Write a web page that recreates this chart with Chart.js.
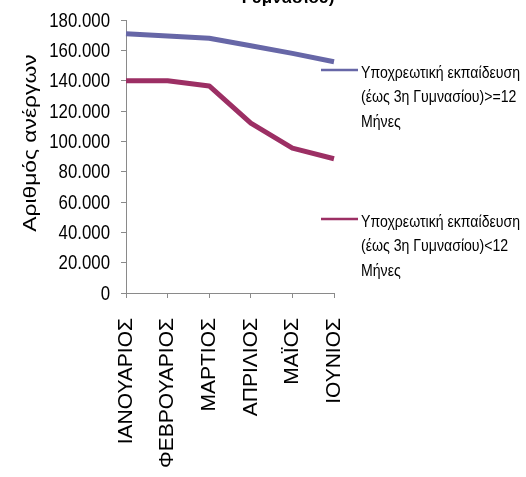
<!DOCTYPE html>
<html>
<head>
<meta charset="utf-8">
<script src="https://cdn.jsdelivr.net/npm/chart.js@4/dist/chart.umd.min.js"></script>
<style>
  html, body { margin: 0; padding: 0; background: #fff; }
  #wrap { width: 526px; height: 477px; }
</style>
</head>
<body>
<div id="wrap"><canvas id="chart" width="526" height="477"></canvas></div>
<script>
// data
const months = ["ΙΑΝΟΥΑΡΙΟΣ", "ΦΕΒΡΟΥΑΡΙΟΣ", "ΜΑΡΤΙΟΣ", "ΑΠΡΙΛΙΟΣ", "ΜΑΪΟΣ", "ΙΟΥΝΙΟΣ"];
const longTerm = [171000, 169500, 168000, 163000, 158000, 152500];
const shortTerm = [140000, 140000, 136500, 112000, 95500, 88500];
const seriesNames = [
    "Υποχρεωτική εκπαίδευση (έως 3η Γυμνασίου)>=12 Μήνες",
    "Υποχρεωτική εκπαίδευση (έως 3η Γυμνασίου)<12 Μήνες"
];
const yTicks = [0, 20000, 40000, 60000, 80000, 100000, 120000, 140000, 160000, 180000];
const chartTitle = "Γυμνασίου)";
const yTitle = "Αριθμός ανέργων";

const colors = ["#6767a7", "#9c2f64"];
const axisColor = "#8a8a8a";
const sans = "'Liberation Sans', Arial, sans-serif";

const fmt = (v) => String(v).replace(/\B(?=(\d{3})+(?!\d))/g, ".");

// text drawn squeezed sideways, the way the original renders it
function narrowText(ctx, txt, x, y, sx) {
    ctx.save();
    ctx.translate(x, y);
    ctx.scale(sx, 1);
    ctx.fillText(txt, 0, 0);
    ctx.restore();
}

// clipped title, y tick labels, stretched y title and the wrapped legend
const extras = {
    id: "extras",
    afterDraw(chart) {
        const ctx = chart.ctx;
        const area = chart.chartArea;
        const yScale = chart.scales.y;
        ctx.save();
        ctx.fillStyle = "#000";

        ctx.font = "bold 17px " + sans;
        ctx.textAlign = "center";
        ctx.textBaseline = "alphabetic";
        ctx.fillText(chartTitle, 288, 3);

        // y tick labels
        ctx.font = "20px " + sans;
        ctx.textAlign = "right";
        ctx.textBaseline = "middle";
        yScale.ticks.forEach((t) => {
            narrowText(ctx, fmt(t.value), area.left - 16, yScale.getPixelForValue(t.value) + 1, 0.84);
        });

        ctx.save();
        ctx.translate(31, 143);
        ctx.rotate(-Math.PI / 2);
        ctx.scale(1.2, 1);
        ctx.font = "19px " + sans;
        ctx.textAlign = "center";
        ctx.textBaseline = "middle";
        ctx.fillText(yTitle, 0, 0);
        ctx.restore();

        const legendY = [70, 219];
        const squeeze = 0.83;
        ctx.font = "17px " + sans;
        ctx.textAlign = "left";
        ctx.textBaseline = "middle";
        chart.data.datasets.forEach((ds, i) => {
            const y = legendY[i];
            ctx.strokeStyle = ds.borderColor;
            ctx.lineWidth = 2.5;
            ctx.beginPath();
            ctx.moveTo(area.right - 13, y);
            ctx.lineTo(area.right + 24, y);
            ctx.stroke();
            const words = ds.label.split(" ");
            const lines = [];
            let cur = "";
            words.forEach((w) => {
                const test = cur ? cur + " " + w : w;
                if (ctx.measureText(test).width * squeeze > 166 && cur) {
                    lines.push(cur);
                    cur = w;
                } else {
                    cur = test;
                }
            });
            if (cur) lines.push(cur);
            lines.forEach((ln, k) => narrowText(ctx, ln, area.right + 27, y + 3 + k * 24.5, squeeze));
        });
        ctx.restore();
    }
};

new Chart(document.getElementById("chart"), {
    type: "line",
    data: {
        labels: months,
        datasets: [
            { label: seriesNames[0], data: longTerm, borderColor: colors[0], backgroundColor: colors[0] },
            { label: seriesNames[1], data: shortTerm, borderColor: colors[1], backgroundColor: colors[1] }
        ]
    },
    options: {
        responsive: false,
        animation: false,
        devicePixelRatio: 1,
        layout: { padding: { top: 20, right: 192, left: 0, bottom: 0 } },
        elements: {
            line: { borderWidth: 5, tension: 0, borderJoinStyle: "round", borderCapStyle: "butt" },
            point: { radius: 0, hoverRadius: 0 }
        },
        plugins: {
            legend: { display: false },
            tooltip: { enabled: false },
            title: { display: false }
        },
        scales: {
            x: {
                offset: false,
                afterFit(scale) { scale.height = 184; },
                grid: { drawOnChartArea: false, drawTicks: true, tickLength: 5, color: axisColor },
                border: { color: axisColor, width: 1 },
                ticks: {
                    autoSkip: false,
                    minRotation: 90,
                    maxRotation: 90,
                    padding: 20,
                    color: "#000",
                    font: { family: sans, size: 21 }
                }
            },
            y: {
                min: 0,
                max: 180000,
                afterFit(scale) { scale.width = 126; },
                afterBuildTicks(scale) { scale.ticks = yTicks.map((v) => ({ value: v })); },
                grid: { drawOnChartArea: false, drawTicks: true, tickLength: 5, color: axisColor },
                border: { color: axisColor, width: 1 },
                ticks: { color: "rgba(0,0,0,0)", font: { family: sans, size: 12 } }
            }
        }
    },
    plugins: [extras]
});
</script>
</body>
</html>
